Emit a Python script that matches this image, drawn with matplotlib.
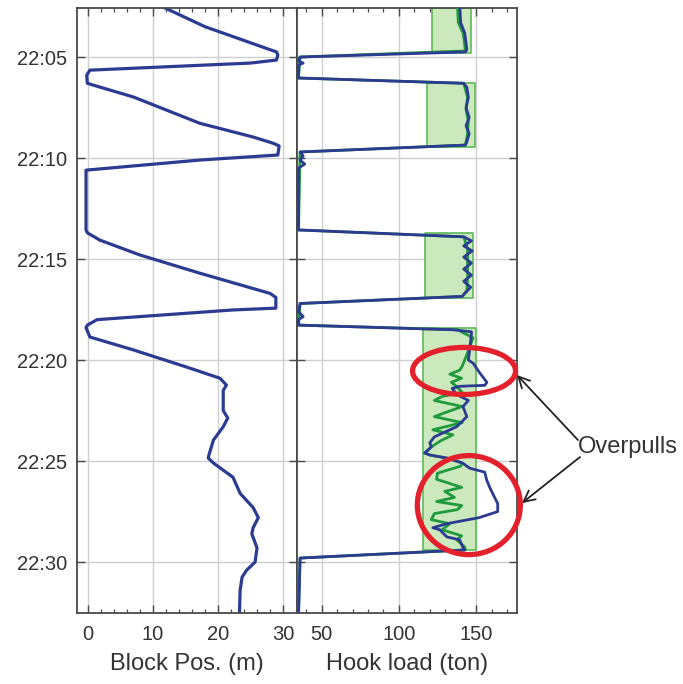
import matplotlib
matplotlib.use("Agg")
import matplotlib.pyplot as plt
from matplotlib.patches import Ellipse
from matplotlib.ticker import MultipleLocator, FixedLocator

plt.rcParams['font.family'] = ['Liberation Sans', 'DejaVu Sans']

# ---- data (time in minutes after 22:00) ----
block_t = [2.52, 3.5, 4.75, 4.9, 5.15, 5.3, 5.65, 5.9, 6.3, 6.39, 6.98, 8.28, 8.96, 9.27,
           9.4, 9.85, 10.1, 10.6, 13.56, 13.7, 14.06, 14.8, 15.7, 16.7, 16.9, 17.43,
           17.52, 18.0, 18.27, 18.4, 18.86, 19.5, 20.35, 20.9, 21.24, 21.5, 22.5, 22.87,
           23.3, 23.96, 24.7, 24.85, 25.1, 25.8, 26.6, 27.3, 27.8, 28.3, 28.6, 29.3,
           30.0, 30.4, 30.75, 31.4, 32.55]
block_pos = [11.5, 18.0, 29.0, 29.2, 29.0, 25.0, 0.3, -0.2, -0.1, 0.8, 7.0, 17.2, 25.4, 28.5,
             29.4, 29.2, 17.2, -0.3, -0.3, -0.1, 1.8, 8.0, 17.2, 28.0, 28.9, 28.9,
             22.3, 1.4, -0.1, -0.3, 0.3, 7.0, 15.2, 20.3, 21.3, 20.8, 20.8, 21.5,
             20.8, 19.3, 18.6, 18.5, 19.3, 22.3, 23.4, 25.4, 26.2, 25.4, 25.2, 26.0,
             25.7, 24.4, 23.7, 23.4, 23.3]

hook_t = [2.55, 3.3, 3.8, 4.3, 4.65, 4.75, 5.0, 5.2, 5.3, 5.4, 6.04, 6.3, 6.5, 7.0, 7.5,
          8.0, 8.4, 8.8, 9.2, 9.36, 9.7, 9.9, 10.1, 10.3, 10.5, 13.56, 13.9, 14.1, 14.35,
          14.6, 14.9, 15.2, 15.5, 15.8, 16.1, 16.4, 16.7, 16.85, 17.2, 17.6, 17.85, 18.0,
          18.27, 18.5, 18.6, 18.7, 19.35, 20.0, 20.15, 20.65, 21.1, 21.25, 21.3, 21.4,
          21.7, 22.0, 22.3, 22.8, 23.3, 23.8, 24.1, 24.3, 24.6, 24.7, 24.85, 25.1, 25.35,
          25.55, 25.94, 26.3, 26.8, 27.1, 27.5, 27.8, 28.1, 28.3, 28.4, 28.75, 28.9,
          29.25, 29.4, 29.8, 32.55]
hook_load = [139.5, 140.0, 142.6, 143.5, 144.0, 143.0, 36.0, 35.0, 38.0, 35.0, 35.0, 142.0,
             144.0, 145.0, 143.5, 145.5, 143.5, 145.5, 144.0, 143.0, 36.0, 38.0, 36.0,
             39.0, 35.0, 35.0, 142.0, 147.0, 142.0, 147.5, 142.0, 147.0, 142.0, 147.0,
             142.0, 146.5, 142.5, 141.0, 36.0, 35.0, 38.0, 35.0, 35.0, 135.0, 147.0,
             147.0, 146.0, 145.0, 148.0, 152.5, 157.0, 155.6, 139.4, 134.5, 137.4, 145.0,
             141.5, 144.0, 137.4, 123.0, 120.0, 121.0, 116.7, 120.0, 131.0, 141.3, 145.8,
             155.6, 156.9, 158.8, 162.0, 164.0, 164.0, 152.0, 131.0, 122.0, 126.5, 131.0,
             139.4, 141.3, 142.6, 36.0, 35.0]

model_t = [2.55, 3.3, 3.8, 4.3, 4.7, 5.0, 6.04, 6.3, 7.0, 7.6, 8.2, 8.8, 9.36, 9.7, 13.56,
           13.9, 14.5, 15.2, 15.9, 16.6, 16.85, 17.2, 18.27, 18.5, 18.9, 19.6, 20.3, 20.5,
           20.7, 20.9, 21.1, 21.3, 21.6, 21.8, 22.0, 22.3, 22.6, 22.8, 23.1, 23.45, 23.7,
           24.0, 24.3, 24.6, 24.7, 24.85, 25.1, 25.25, 25.6, 25.9, 26.3, 26.5, 26.7, 26.8,
           27.0, 27.2, 27.4, 27.6, 27.9, 28.1, 28.4, 28.7, 28.9, 29.25, 29.4, 29.8, 32.55]
model_load = [138.0, 138.5, 141.5, 142.5, 143.0, 36.0, 35.0, 142.0, 144.5, 143.5, 145.0,
              144.5, 143.0, 36.0, 35.0, 142.0, 144.5, 144.5, 144.5, 144.0, 141.0, 36.0,
              35.0, 138.0, 148.0, 144.7, 141.0, 139.4, 133.0, 140.6, 134.0, 137.4, 141.0,
              128.0, 123.0, 141.0, 130.0, 123.0, 141.0, 122.0, 135.0, 127.0, 121.0, 116.7,
              120.0, 131.0, 141.3, 140.0, 125.0, 124.4, 140.7, 129.7, 134.0, 136.0, 124.4,
              140.7, 138.0, 123.0, 121.0, 133.0, 128.0, 140.7, 137.5, 142.6, 143.0, 36.0,
              35.0]

# tolerance band while pulling out of hole
band_start = [2.55, 6.29, 13.71, 18.42]
band_end = [4.8, 9.46, 16.93, 29.4]
band_low = [121.6, 118.0, 116.7, 115.6]
band_high = [146.5, 149.0, 148.0, 150.0]

time_ticks = [5, 10, 15, 20, 25, 30]
time_labels = ["22:05", "22:10", "22:15", "22:20", "22:25", "22:30"]
block_ticks = [0, 10, 20, 30]
hook_ticks = [50, 100, 150]

BLUE = '#2c3b92'
GREEN = '#1f9a3c'
SPINE = '#4a4a4a'
TXT = '#333333'

fig = plt.figure(figsize=(6.83, 6.84), dpi=100)
W, H = 683, 684
bottom = (H - 613) / H
height = 605 / H
ax1 = fig.add_axes([77 / W, bottom, 220 / W, height])
ax2 = fig.add_axes([297 / W, bottom, 220 / W, height], sharey=ax1)

for ax in (ax1, ax2):
    ax.set_facecolor('white')
    ax.grid(True, which='major', color='#cfcfcf', lw=1.0)
    ax.set_axisbelow(True)
    for s in ax.spines.values():
        s.set_color(SPINE)
        s.set_linewidth(1.3)
    ax.tick_params(which='both', direction='in', top=True, right=True,
                   color=SPINE, labelcolor=TXT)
    ax.tick_params(which='major', length=6, width=1.0, labelsize=14.5, pad=9)
    ax.tick_params(which='minor', length=3, width=0.9)
    ax.yaxis.set_major_locator(FixedLocator(time_ticks))
    ax.yaxis.set_minor_locator(FixedLocator([]))

ax1.set_ylim(32.52, 2.574)
ax1.set_yticklabels(time_labels)
ax1.tick_params(axis='y', pad=7)
ax2.tick_params(axis='y', labelleft=False)

# block position
ax1.plot(block_pos, block_t, color=BLUE, lw=2.3, solid_joinstyle='round')
ax1.set_xlim(-1.69, 32.15)
ax1.xaxis.set_major_locator(FixedLocator(block_ticks))
ax1.xaxis.set_minor_locator(MultipleLocator(2))
ax1.set_xlabel('Block Pos. (m)', fontsize=17, color=TXT, labelpad=6)

# hook load
for t0, t1, lo, hi in zip(band_start, band_end, band_low, band_high):
    ax2.fill_betweenx([t0, t1], lo, hi, facecolor='#cce8bd', edgecolor='#5fb85a',
                      lw=1.2, zorder=2)
ax2.plot(model_load, model_t, color=GREEN, lw=2.0, zorder=3)
ax2.plot(hook_load, hook_t, color=BLUE, lw=2.0, zorder=4)
ax2.set_xlim(34.0, 176.5)
ax2.xaxis.set_major_locator(FixedLocator(hook_ticks))
ax2.xaxis.set_minor_locator(MultipleLocator(10))
ax2.set_xlabel('Hook load (ton)', fontsize=17, color=TXT, labelpad=6)

# overpull markers
for (cx, cy, w, h) in [(142.2, 20.54, 66.7, 2.33), (145.3, 27.18, 66.7, 4.9)]:
    ax2.add_patch(Ellipse((cx, cy), w, h, fill=False, edgecolor='#e3202b', lw=3.8,
                          zorder=6, clip_on=False))

ax2.annotate('Overpulls', xy=(216, 24.3), xycoords='data', fontsize=17, color=TXT,
             ha='left', va='center', annotation_clip=False)
for tip, tail in [((176.5, 20.74), (216.0, 23.96)), ((179.7, 27.08), (217.3, 24.8))]:
    ax2.annotate('', xy=tip, xytext=tail, xycoords='data', textcoords='data',
                 annotation_clip=False,
                 arrowprops=dict(arrowstyle='->,head_length=0.8,head_width=0.4',
                                 color='#222222', lw=1.3, shrinkA=0, shrinkB=0))

fig.savefig('out.png', dpi=100, facecolor='white')
